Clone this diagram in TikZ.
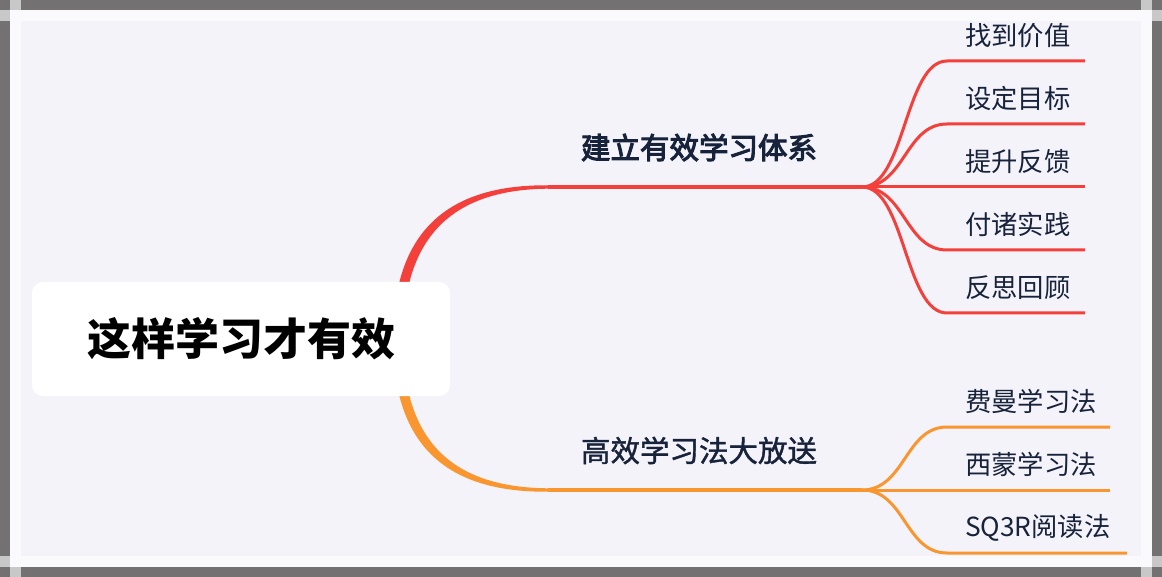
\documentclass[tikz,border=0pt]{standalone}
\usepackage{fontspec}
\newfontfamily\cjk{Noto Sans CJK SC}
\newfontfamily\cjkA[FakeBold=3.5]{Noto Sans CJK SC}
\newfontfamily\cjkB[FakeBold=1.4]{Noto Sans CJK SC}
\usetikzlibrary{calc}
\definecolor{framegray}{RGB}{115,113,113}
\definecolor{cornergray}{RGB}{200,200,200}
\definecolor{stripwhite}{RGB}{250,250,252}
\definecolor{bglav}{RGB}{245,243,250}
\definecolor{brred}{RGB}{243,64,58}
\definecolor{brorange}{RGB}{250,150,48}
\definecolor{txtnavy}{RGB}{23,35,58}
\tikzset{
  rootbox/.style={fill=white, rounded corners=11pt, inner sep=0pt, minimum width=418pt, minimum height=114pt,
    font=\cjk\bfseries\fontsize{44}{48}\selectfont, text=black},
  branchtxt/.style={inner sep=0pt, text=txtnavy},
  leaftxt/.style={inner sep=0pt, anchor=west, font=\cjk\fontsize{26.3}{30}\selectfont, text=txtnavy},
  mainline/.style={line width=3.4pt},
  leafline/.style={line width=3pt},
}
\begin{document}
\begin{tikzpicture}[x=1pt,y=-1pt]
% frame
\fill[framegray] (0,0) rectangle (1162,577);
\fill[stripwhite] (10,10) rectangle (1152,567);
\fill[bglav] (21,21) rectangle (1141,556);
\fill[cornergray] (10,0) rectangle (21,10);
\fill[cornergray] (0,10) rectangle (10,21);
\fill[cornergray] (1141,0) rectangle (1152,10);
\fill[cornergray] (1152,10) rectangle (1162,21);
\fill[cornergray] (0,556) rectangle (10,567);
\fill[cornergray] (10,567) rectangle (21,577);
\fill[cornergray] (1141,567) rectangle (1152,577);
\fill[cornergray] (1152,556) rectangle (1162,567);
\useasboundingbox (0,0) rectangle (1162,577);

% coordinates
\coordinate (rootc) at (398,339);
\coordinate (b1s) at (548,187);
\coordinate (b1hub) at (862,187);
\coordinate (b2s) at (548,490);
\coordinate (b2hub) at (862,490);

% main branch 1 (tapered)
\fill[brred] ($(rootc)+(-5,0)$) .. controls ($(rootc)+(-5,-110)$) and ($(b1s)+(-98,-2.5)$) .. ($(b1s)+(0,-1.7)$)
  -- ($(b1s)+(0,1.7)$) .. controls ($(b1s)+(-92,2.5)$) and ($(rootc)+(5,-106)$) .. ($(rootc)+(5,0)$) -- cycle;
\draw[brred, mainline] (b1s) -- (b1hub);
% main branch 2 (tapered)
\fill[brorange] ($(rootc)+(-5,0)$) .. controls ($(rootc)+(-5,110)$) and ($(b2s)+(-98,2.5)$) .. ($(b2s)+(0,1.7)$)
  -- ($(b2s)+(0,-1.7)$) .. controls ($(b2s)+(-92,-2.5)$) and ($(rootc)+(5,106)$) .. ($(rootc)+(5,0)$) -- cycle;
\draw[brorange, mainline] (b2s) -- (b2hub);

% root
\node[rootbox] (root) at (241,339) {这样学习才有效};

% branch texts
\node[branchtxt, font=\cjkA\fontsize{29.5}{32}\selectfont] (b1) at (699,147.5) {建立有效学习体系};
\node[branchtxt, font=\cjkB\fontsize{29.5}{32}\selectfont] (b2) at (699,450.5) {高效学习法大放送};

% leaves of branch 1
\foreach \i/\y/\t in {1/61/找到价值, 2/124/设定目标, 3/187/提升反馈, 4/250/付诸实践, 5/313/反思回顾}{
  \coordinate (r\i s) at (947,\y);
  \coordinate (r\i e) at (1085,\y);
  \node[leaftxt] (r\i) at (965,\y-25.5) {\t};
  \draw[brred, leafline] (b1hub) .. controls ($(b1hub)+(43,0)$) and ($(r\i s)+(-42,0)$) .. (r\i s) -- (r\i e);
}
% leaves of branch 2
\foreach \i/\y/\e/\t in {1/427/1110/费曼学习法, 2/490/1110/西蒙学习法, 3/553/1127/SQ3R阅读法}{
  \coordinate (o\i s) at (947,\y);
  \coordinate (o\i e) at (\e,\y);
  \node[leaftxt] (o\i) at (965,\y-25.5) {\t};
  \draw[brorange, leafline] (b2hub) .. controls ($(b2hub)+(43,0)$) and ($(o\i s)+(-42,0)$) .. (o\i s) -- (o\i e);
}
\end{tikzpicture}
\end{document}
